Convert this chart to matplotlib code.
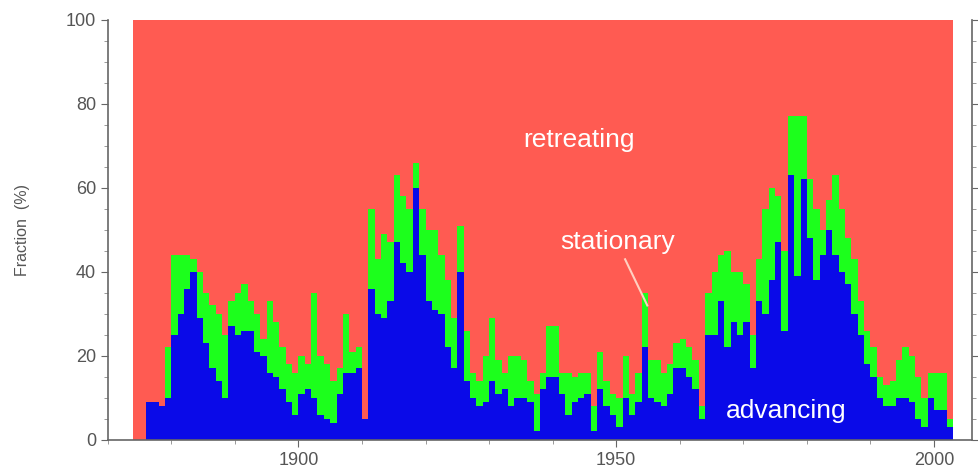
import matplotlib
matplotlib.use('Agg')
import matplotlib.pyplot as plt
from matplotlib.ticker import MultipleLocator

# year of each bar
years = list(range(1874, 2003))

# advancing fraction (%)
advancing = [
    0, 0, 9, 9, 8, 10, 25, 30, 36, 40,            # 1874-1883
    29, 23, 17, 14, 10, 27, 25, 26, 26, 21,       # 1884-1893
    20, 16, 15, 12, 9, 6, 11, 12, 10, 6,          # 1894-1903
    5, 4, 11, 16, 16, 17, 5, 36, 30, 29,          # 1904-1913
    33, 47, 42, 40, 60, 44, 33, 31, 30, 22,       # 1914-1923
    17, 40, 14, 10, 8, 9, 14, 11, 12, 8,          # 1924-1933
    10, 10, 9, 2, 12, 15, 15, 11, 6, 9,           # 1934-1943
    10, 11, 2, 12, 8, 6, 3, 10, 6, 9,             # 1944-1953
    22, 10, 9, 8, 11, 17, 17, 15, 12, 5,          # 1954-1963
    25, 25, 33, 22, 28, 25, 28, 17, 33, 30,       # 1964-1973
    38, 47, 26, 63, 39, 62, 48, 38, 44, 50,       # 1974-1983
    44, 40, 37, 30, 25, 18, 15, 10, 8, 8,         # 1984-1993
    10, 10, 9, 5, 3, 10, 7, 7, 3,                 # 1994-2002
]

# advancing + stationary (%), top of the green part
upper = [
    0, 0, 9, 9, 8, 22, 44, 44, 44, 43,
    40, 35, 32, 30, 25, 33, 35, 37, 33, 30,
    24, 33, 28, 22, 18, 16, 20, 18, 35, 20,
    18, 14, 17, 30, 21, 22, 5, 55, 43, 49,
    47, 63, 58, 55, 66, 55, 50, 50, 44, 38,
    29, 51, 26, 16, 14, 20, 29, 19, 16, 20,
    20, 19, 14, 11, 16, 27, 27, 16, 16, 15,
    16, 16, 8, 21, 14, 11, 10, 20, 11, 16,
    35, 19, 19, 16, 18, 23, 24, 22, 19, 8,
    35, 40, 44, 45, 40, 40, 37, 25, 43, 55,
    60, 58, 45, 77, 77, 77, 62, 55, 50, 57,
    63, 55, 48, 43, 33, 26, 22, 15, 13, 14,
    19, 22, 20, 15, 10, 16, 16, 16, 5,
]

stationary = [u - a for u, a in zip(upper, advancing)]
retreating = [100 - u for u in upper]

def main():
    fig = plt.figure(figsize=(9.79, 4.73), dpi=100)
    ax = fig.add_axes([0.110, 0.070, 0.883, 0.888])

    red = '#ff5b52'
    green = '#1cff1c'
    blue = '#0a0ae8'

    ax.bar(years, advancing, width=1.0, align='edge', color=blue, linewidth=0)
    ax.bar(years, stationary, width=1.0, align='edge', bottom=advancing,
           color=green, linewidth=0)
    ax.bar(years, retreating, width=1.0, align='edge', bottom=upper,
           color=red, linewidth=0)

    ax.set_xlim(1870, 2006)
    ax.set_ylim(0, 100)

    ax.xaxis.set_major_locator(MultipleLocator(50))
    ax.xaxis.set_minor_locator(MultipleLocator(10))
    ax.yaxis.set_major_locator(MultipleLocator(20))
    ax.yaxis.set_minor_locator(MultipleLocator(5))

    ax.tick_params(axis='both', which='major', colors='#666666', labelcolor='#555555',
                   labelsize=13, length=5, direction='out')
    ax.tick_params(axis='both', which='minor', colors='#888888', length=3, direction='out')
    ax.tick_params(axis='y', right=True, which='both')

    for side in ['left', 'bottom', 'right']:
        ax.spines[side].set_color('#666666')
        ax.spines[side].set_linewidth(1.2)
    ax.spines['top'].set_visible(False)

    ax.set_ylabel('Fraction  (%)', fontsize=11.5, color='#555555', labelpad=26,
                  family='Liberation Sans')

    ax.text(1944.2, 71.5, 'retreating', color='white', fontsize=19,
            ha='center', va='center', family='Liberation Sans')
    ax.text(1950.2, 47, 'stationary', color='white', fontsize=19,
            ha='center', va='center', family='Liberation Sans')
    ax.plot([1951.4, 1954.9], [43.0, 32], color='#ffd0c0', linewidth=1.5)
    ax.text(1976.8, 6.8, 'advancing', color='white', fontsize=19,
            ha='center', va='center', family='Liberation Sans')

    for lab in ax.get_xticklabels() + ax.get_yticklabels():
        lab.set_family('Liberation Sans')

    fig.savefig('out.png', dpi=100)
    plt.close(fig)

if __name__ == '__main__':
    main()
